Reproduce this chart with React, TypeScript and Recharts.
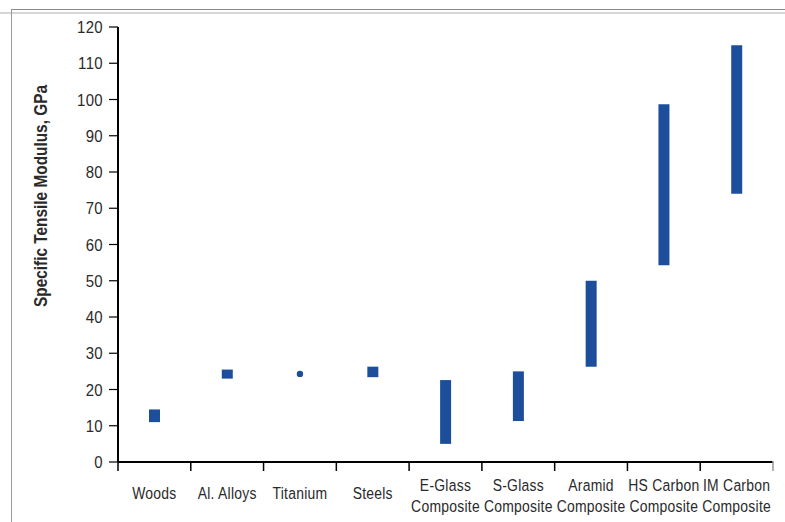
import React from 'react';
import { ComposedChart, Bar, Scatter, XAxis, YAxis } from 'recharts';

const categories = [
  'Woods',
  'Al. Alloys',
  'Titanium',
  'Steels',
  'E-Glass\nComposite',
  'S-Glass\nComposite',
  'Aramid\nComposite',
  'HS Carbon\nComposite',
  'IM Carbon\nComposite',
];
const lowValues: (number | null)[] = [11, 23, null, 23.4, 5, 11.3, 26.3, 54.3, 74];
const highValues: (number | null)[] = [14.5, 25.5, null, 26.3, 22.6, 25, 50, 98.7, 115];
const dotValues: (number | null)[] = [null, null, 24.3, null, null, null, null, null, null];
const yTicks = [0, 10, 20, 30, 40, 50, 60, 70, 80, 90, 100, 110, 120];
const yTitle = 'Specific Tensile Modulus, GPa';

const data = categories.map((c, i) => ({
  name: c,
  range: lowValues[i] != null && highValues[i] != null ? [lowValues[i], highValues[i]] : null,
  dot: dotValues[i],
}));

const FONT = '"Liberation Sans", Arial, sans-serif';
const BLUE = '#1C4E9B';
const TXT = '#2a2a2a';

const XTick = (props: any) => {
  const { x, y, payload, index } = props;
  const off = payload && payload.offset ? payload.offset : 36.4;
  const lines = String(payload.value).split('\n');
  const isLast = index === categories.length - 1;
  const ys = lines.length === 1 ? [y + 37] : lines.map((_, i) => y + 29 + i * 21);
  return (
    <g>
      <line x1={x - off} x2={x - off} y1={y} y2={y + 9} stroke="#000" strokeWidth={1.5} />
      {isLast && <line x1={x + off} x2={x + off} y1={y - 1} y2={y + 9} stroke="#999" strokeWidth={1.5} />}
      {lines.map((l, i) => (
        <text
          key={i}
          transform={`translate(${x},${ys[i]}) scale(0.82,1)`}
          x={0}
          y={0}
          textAnchor="middle"
          fontFamily={FONT}
          fontSize={17}
          fill={TXT}
          letterSpacing={0.3}
        >
          {l}
        </text>
      ))}
    </g>
  );
};

const YTick = (props: any) => {
  const { x, y, payload } = props;
  return (
    <text
      transform={`translate(${x},${y}) scale(0.88,1)`}
      x={0}
      y={0}
      dy="0.36em"
      textAnchor="end"
      fontFamily={FONT}
      fontSize={17}
      fill={TXT}
      letterSpacing={0.4}
    >
      {payload.value}
    </text>
  );
};

const YTitle = () => (
  <text
    transform="translate(42,196) rotate(-90) scale(0.88,1)"
    x={0}
    y={0}
    textAnchor="middle"
    dominantBaseline="middle"
    fontFamily={FONT}
    fontSize={17.5}
    fontWeight="bold"
    fill={TXT}
  >
    {yTitle}
  </text>
);

export default function App() {
  return (
    <div style={{ position: 'absolute', left: 0, top: 0, width: 785, height: 522, background: '#fff' }}>
      <div style={{ position: 'absolute', left: 0, top: 12, width: 785, height: 2, background: '#d6d6d6' }} />
      <div style={{ position: 'absolute', left: 11, top: 9, width: 774, height: 1, background: '#8a8a8a' }} />
      <div style={{ position: 'absolute', left: 11, top: 9, width: 1, height: 513, background: '#9a9a9a' }} />
      <div style={{ position: 'absolute', left: 0, top: 0 }}>
        <ComposedChart
          width={785}
          height={522}
          data={data}
          margin={{ top: 27, right: 12, bottom: 10, left: 58 }}
          barCategoryGap={0}
        >
          <XAxis
            dataKey="name"
            type="category"
            axisLine={{ stroke: '#000', strokeWidth: 2 }}
            tickLine={false}
            tickSize={0}
            tickMargin={0}
            height={50}
            interval={0}
            tick={<XTick />}
          />
          <YAxis
            type="number"
            domain={[0, 120]}
            ticks={yTicks}
            width={60}
            interval={0}
            axisLine={{ stroke: '#000', strokeWidth: 2 }}
            tickLine={{ stroke: '#000', strokeWidth: 1.2 }}
            tickSize={9}
            tickMargin={6}
            tick={<YTick />}
            label={{ content: () => <YTitle /> }}
          />
          <Bar dataKey="range" fill={BLUE} barSize={11} isAnimationActive={false} />
          <Scatter
            dataKey="dot"
            fill={BLUE}
            isAnimationActive={false}
            shape={(p: any) => (p.cx != null && p.cy != null ? <circle cx={p.cx} cy={p.cy} r={3.2} fill={BLUE} /> : <g />)}
          />
        </ComposedChart>
      </div>
    </div>
  );
}
